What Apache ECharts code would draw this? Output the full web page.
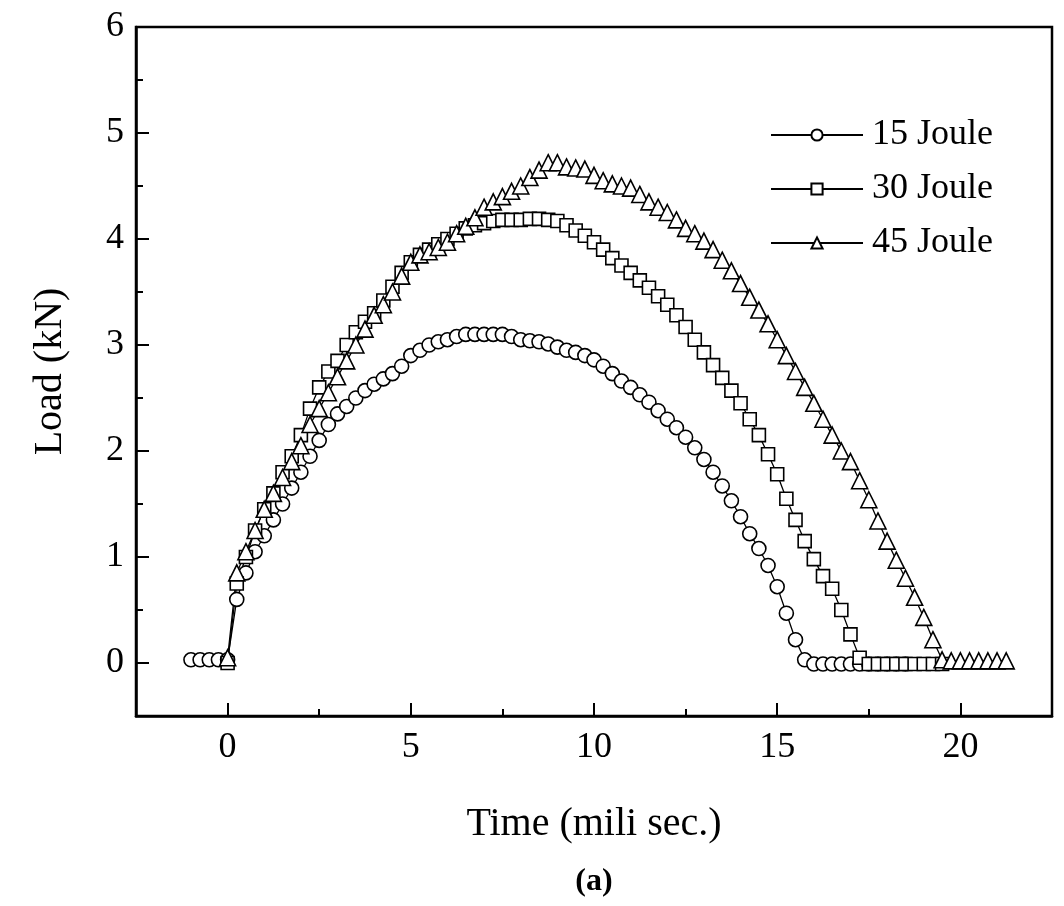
<!DOCTYPE html>
<html>
<head>
<meta charset="utf-8">
<script src="https://cdn.jsdelivr.net/npm/echarts@6/dist/echarts.min.js"></script>
<style>
html,body{margin:0;padding:0;background:#fff;}
#chart{width:1064px;height:906px;}
</style>
</head>
<body>
<div id="chart"></div>
<script>
// ---- data (time in ms, load in kN) ----
const seriesNames = ['15 Joule', '30 Joule', '45 Joule'];
const xTickLabels = [0, 5, 10, 15, 20];
const yTickLabels = [0, 1, 2, 3, 4, 5, 6];

const t15 = [-1.0,-0.75,-0.5,-0.25,0,0.25,0.5,0.75,1.0,1.25,1.5,1.75,2.0,2.25,2.5,2.75,3.0,3.25,3.5,3.75,4.0,4.25,4.5,4.75,5.0,5.25,5.5,5.75,6.0,6.25,6.5,6.75,7.0,7.25,7.5,7.75,8.0,8.25,8.5,8.75,9.0,9.25,9.5,9.75,10.0,10.25,10.5,10.75,11.0,11.25,11.5,11.75,12.0,12.25,12.5,12.75,13.0,13.25,13.5,13.75,14.0,14.25,14.5,14.75,15.0,15.25,15.5,15.75,16.0,16.25,16.5,16.75,17.0,17.25,17.5,17.75,18.0,18.25,18.5];
const load15 = [0.03,0.03,0.03,0.03,0.03,0.6,0.85,1.05,1.2,1.35,1.5,1.65,1.8,1.95,2.1,2.25,2.35,2.42,2.5,2.57,2.63,2.68,2.73,2.8,2.9,2.95,3.0,3.03,3.05,3.08,3.1,3.1,3.1,3.1,3.1,3.08,3.05,3.04,3.03,3.01,2.98,2.95,2.93,2.9,2.86,2.8,2.73,2.66,2.6,2.53,2.46,2.38,2.3,2.22,2.13,2.03,1.92,1.8,1.67,1.53,1.38,1.22,1.08,0.92,0.72,0.47,0.22,0.03,-0.01,-0.01,-0.01,-0.01,-0.01,-0.01,-0.01,-0.01,-0.01,-0.01,-0.01];

const t30 = [0,0.25,0.5,0.75,1.0,1.25,1.5,1.75,2.0,2.25,2.5,2.75,3.0,3.25,3.5,3.75,4.0,4.25,4.5,4.75,5.0,5.25,5.5,5.75,6.0,6.25,6.5,6.75,7.0,7.25,7.5,7.75,8.0,8.25,8.5,8.75,9.0,9.25,9.5,9.75,10.0,10.25,10.5,10.75,11.0,11.25,11.5,11.75,12.0,12.25,12.5,12.75,13.0,13.25,13.5,13.75,14.0,14.25,14.5,14.75,15.0,15.25,15.5,15.75,16.0,16.25,16.5,16.75,17.0,17.25,17.5,17.75,18.0,18.25,18.5,18.75,19.0,19.25,19.5];
const load30 = [0.0,0.75,1.0,1.25,1.45,1.6,1.8,1.95,2.15,2.4,2.6,2.75,2.85,3.0,3.12,3.22,3.3,3.42,3.55,3.68,3.78,3.85,3.9,3.95,4.0,4.05,4.1,4.13,4.15,4.17,4.18,4.18,4.18,4.19,4.19,4.18,4.17,4.13,4.08,4.03,3.97,3.9,3.82,3.75,3.68,3.61,3.54,3.46,3.38,3.28,3.17,3.05,2.93,2.81,2.69,2.57,2.45,2.3,2.15,1.97,1.78,1.55,1.35,1.15,0.98,0.82,0.7,0.5,0.27,0.05,-0.01,-0.01,-0.01,-0.01,-0.01,-0.01,-0.01,-0.01,-0.01];

const t45 = [0,0.25,0.5,0.75,1.0,1.25,1.5,1.75,2.0,2.25,2.5,2.75,3.0,3.25,3.5,3.75,4.0,4.25,4.5,4.75,5.0,5.25,5.5,5.75,6.0,6.25,6.5,6.75,7.0,7.25,7.5,7.75,8.0,8.25,8.5,8.75,9.0,9.25,9.5,9.75,10.0,10.25,10.5,10.75,11.0,11.25,11.5,11.75,12.0,12.25,12.5,12.75,13.0,13.25,13.5,13.75,14.0,14.25,14.5,14.75,15.0,15.25,15.5,15.75,16.0,16.25,16.5,16.75,17.0,17.25,17.5,17.75,18.0,18.25,18.5,18.75,19.0,19.25,19.5,19.75,20.0,20.25,20.5,20.75,21.0,21.25];
const load45 = [0.05,0.85,1.05,1.25,1.45,1.6,1.75,1.9,2.05,2.25,2.4,2.55,2.7,2.85,3.0,3.15,3.28,3.38,3.5,3.65,3.78,3.85,3.88,3.92,3.97,4.05,4.12,4.2,4.3,4.35,4.4,4.45,4.5,4.58,4.65,4.72,4.72,4.68,4.67,4.66,4.6,4.55,4.52,4.5,4.48,4.42,4.35,4.3,4.25,4.18,4.1,4.05,3.98,3.9,3.8,3.7,3.58,3.45,3.33,3.2,3.05,2.9,2.75,2.6,2.45,2.3,2.15,2.0,1.9,1.72,1.54,1.34,1.15,0.97,0.8,0.62,0.43,0.22,0.03,0.02,0.02,0.02,0.02,0.02,0.02,0.02];

function pairs(xs, ys) { return xs.map((x, i) => [x, ys[i]]); }

const FONT = '"Liberation Serif", "Times New Roman", serif';
const chart = echarts.init(document.getElementById('chart'), null, {renderer: 'canvas'});

const lineSeries = (name, xs, ys, symbol, size) => ({
  name: name,
  type: 'line',
  data: pairs(xs, ys),
  symbol: symbol,
  symbolSize: size,
  showAllSymbol: true,
  animation: false,
  lineStyle: {color: '#000', width: 1.3},
  itemStyle: {color: '#fff', borderColor: '#000', borderWidth: 1.6}
});

chart.setOption({
  backgroundColor: '#fff',
  animation: false,
  grid: {left: 136, right: 12, top: 27, bottom: 190, show: true, borderColor: '#000', borderWidth: 2.5, backgroundColor: 'transparent'},
  legend: {
    orient: 'vertical', right: 66, top: 112, itemGap: 18,
    itemWidth: 92, itemHeight: 14,
    data: seriesNames,
    textStyle: {fontFamily: FONT, fontSize: 36, color: '#000', padding: [0, 0, 0, 4]}
  },
  xAxis: [{
    type: 'value', min: -2.5, max: 22.5, interval: 2.5, position: 'bottom',
    name: 'Time (mili sec.)', nameLocation: 'middle', nameGap: 88,
    nameTextStyle: {fontFamily: FONT, fontSize: 40, color: '#000'},
    axisLine: {show: true, onZero: false, lineStyle: {color: '#000', width: 2.5}},
    axisTick: {show: true, inside: true, length: 7, lineStyle: {color: '#000', width: 2}},
    axisLabel: {fontFamily: FONT, fontSize: 36, color: '#000', margin: 14,
      formatter: v => (xTickLabels.indexOf(v) >= 0 ? String(v) : '')},
    splitLine: {show: false}
  }, {
    type: 'value', min: -2.5, max: 22.5, position: 'bottom',
    axisLine: {show: false, onZero: false},
    axisTick: {show: true, inside: true, length: 13, customValues: xTickLabels, lineStyle: {color: '#000', width: 2}},
    axisLabel: {show: false},
    splitLine: {show: false}
  }],
  yAxis: [{
    type: 'value', min: -0.5, max: 6, interval: 0.5, position: 'left',
    name: 'Load (kN)', nameLocation: 'middle', nameGap: 66, nameRotate: 90,
    nameTextStyle: {fontFamily: FONT, fontSize: 40, color: '#000'},
    axisLine: {show: true, onZero: false, lineStyle: {color: '#000', width: 2.5}},
    axisTick: {show: true, inside: true, length: 7, lineStyle: {color: '#000', width: 2}},
    axisLabel: {fontFamily: FONT, fontSize: 36, color: '#000', margin: 12,
      formatter: v => (yTickLabels.indexOf(v) >= 0 ? String(v) : '')},
    splitLine: {show: false}
  }, {
    type: 'value', min: -0.5, max: 6, position: 'left',
    axisLine: {show: false, onZero: false},
    axisTick: {show: true, inside: true, length: 13, customValues: yTickLabels, lineStyle: {color: '#000', width: 2}},
    axisLabel: {show: false},
    splitLine: {show: false}
  }],
  graphic: [{
    type: 'text', x: 594, y: 866,
    style: {text: '(a)', font: 'bold 32px ' + FONT, fill: '#000', textAlign: 'center'}
  }],
  series: [
    lineSeries(seriesNames[0], t15, load15, 'circle', 14),
    lineSeries(seriesNames[1], t30, load30, 'rect', 13),
    lineSeries(seriesNames[2], t45, load45, 'triangle', 16)
  ]
});
</script>
</body>
</html>
